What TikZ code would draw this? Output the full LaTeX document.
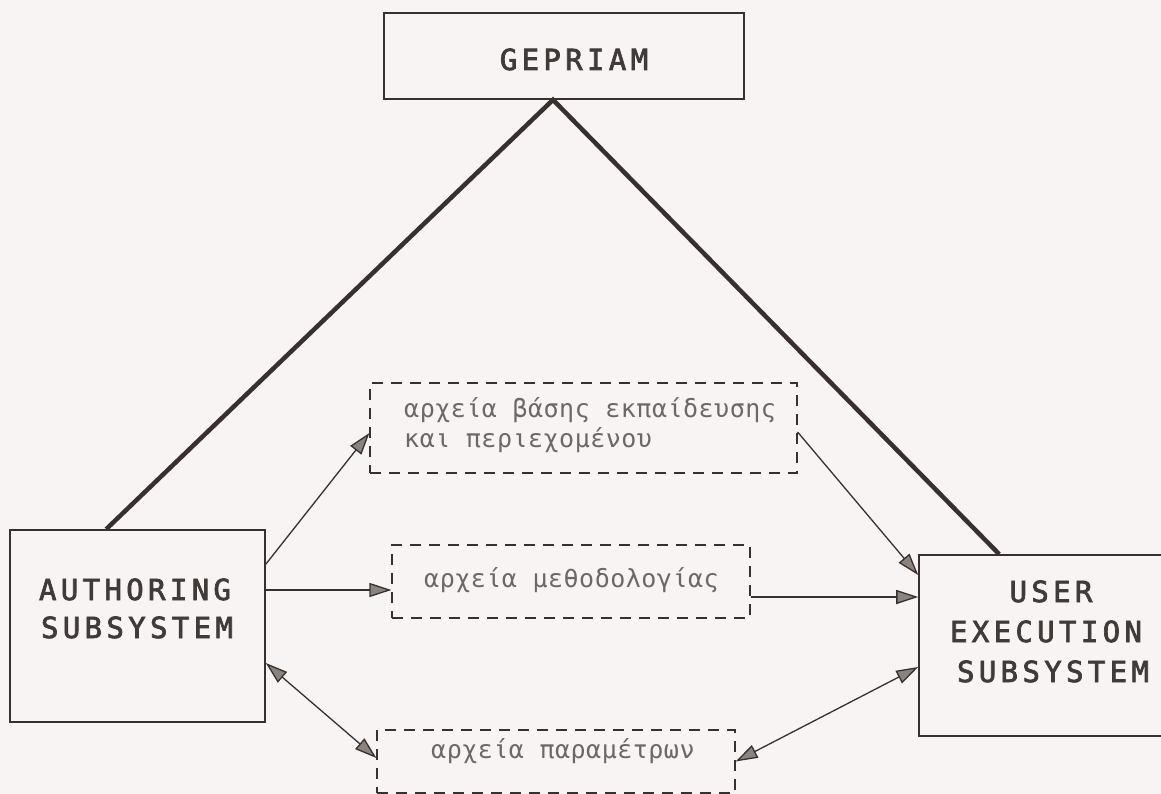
\documentclass[tikz,border=0pt]{standalone}
\usepackage{fontspec}
\usetikzlibrary{arrows.meta}
\newfontfamily\capfont{DejaVu Sans Mono}[LetterSpace=15,FakeBold=2.5]
\newfontfamily\grkfont{DejaVu Sans Mono}[LetterSpace=2]
\definecolor{bg}{RGB}{248,244,243}
\definecolor{ink}{RGB}{55,48,46}
\definecolor{txt}{RGB}{64,58,56}
\definecolor{grk}{RGB}{108,104,104}
\definecolor{headfill}{RGB}{140,130,126}
\tikzset{
  solidbox/.style={draw=ink, line width=1.6pt, inner sep=0pt},
  dashbox/.style={draw=ink, line width=1.2pt, dash pattern=on 11pt off 8pt, inner sep=0pt},
  captext/.style={font=\capfont\fontsize{29}{39}\selectfont, text=txt, inner sep=0pt, anchor=base},
  grktext/.style={font=\grkfont\fontsize{25}{30}\selectfont, text=grk, inner sep=0pt, anchor=base west},
  heavy/.style={draw=ink, line width=4.5pt, line join=miter},
  arr/.style={draw=ink, line width=1.3pt, -{Triangle[length=22pt,width=14pt,fill=headfill]}},
  arrboth/.style={draw=ink, line width=1.3pt, {Triangle[length=22pt,width=14pt,fill=headfill]}-{Triangle[length=22pt,width=14pt,fill=headfill]}}
}
\begin{document}
\begin{tikzpicture}[x=1pt,y=-1pt]
\useasboundingbox (0,0) rectangle (1161,794);
\fill[bg] (0,0) rectangle (1161,794);

% boxes
\node[solidbox, minimum width=360pt, minimum height=86pt] (gep) at (564,56) {};
\node[solidbox, minimum width=255pt, minimum height=192pt] (auth) at (137.5,626) {};
\node[solidbox, minimum width=251pt, minimum height=181pt] (user) at (1044.5,645.5) {};
\node[dashbox, minimum width=427pt, minimum height=90pt] (d1) at (583.5,428) {};
\node[dashbox, minimum width=358pt, minimum height=73pt] (d2) at (571,581.5) {};
\node[dashbox, minimum width=358pt, minimum height=63pt] (d3) at (556,761.5) {};

% texts
\node[captext] (tgep) at (574,70) {GEPRIAM};
\node[captext] (ta1) at (135,600) {AUTHORING};
\node[captext] (ta2) at (137,638) {SUBSYSTEM};
\node[captext] (tu1) at (1051,602) {USER};
\node[captext] (tu2) at (1046,642) {EXECUTION};
\node[captext] (tu3) at (1053,682) {SUBSYSTEM};
\node[grktext] (t11) at (404,417) {αρχεία βάσης εκπαίδευσης};
\node[grktext] (t12) at (404,447) {και περιεχομένου};
\node[grktext] (t2) at (424,587) {αρχεία μεθοδολογίας};
\node[grktext] (t3) at (431,758) {αρχεία παραμέτρων};

% heavy lines
\draw[heavy] ([xshift=97pt]auth.north west) -- ([xshift=-11pt]gep.south) -- ([xshift=81pt]user.north west);

% arrows
\draw[arr] ([yshift=-35pt]auth.north east) -- ([yshift=-5pt]d1.west);
\draw[arr] (auth.east |- 0,590) -- (d2.west |- 0,590);
\draw[arrboth] ([yshift=-37pt]auth.east) -- ([yshift=3.5pt]d3.west);
\draw[arr] ([yshift=-4pt]d1.east) -- ([yshift=70.5pt]user.west);
\draw[arr] (d2.east |- 0,597) -- (user.west |- 0,597);
\draw[arrboth] ([yshift=-21.5pt]user.west) -- (d3.east);
\end{tikzpicture}
\end{document}
